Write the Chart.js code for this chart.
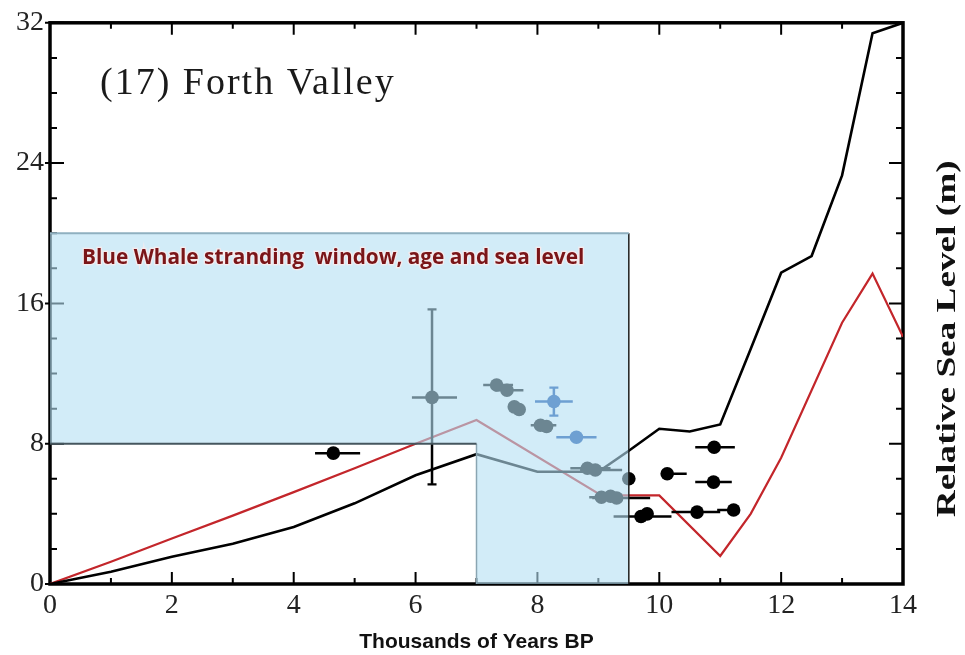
<!DOCTYPE html>
<html>
<head>
<meta charset="utf-8">
<title>Forth Valley</title>
<script src="https://cdn.jsdelivr.net/npm/chart.js@4.4.1/dist/chart.umd.min.js"></script>
<style>
  html, body { margin: 0; padding: 0; background: #ffffff; }
  #wrap { width: 965px; height: 655px; }
</style>
</head>
<body>
<div id="wrap"><canvas id="rslChart"></canvas></div>
<script>
// ==========================================
// 1. DATA (ribuan tahun BP vs muka laut relatif, m)
// ==========================================
const blackAge = [0, 1, 2, 3, 4, 5, 6, 7, 8, 9, 9.5, 10, 10.5, 11, 11.5, 12, 12.5, 13, 13.5, 14];
const blackRsl = [0, 0.7, 1.55, 2.3, 3.25, 4.6, 6.2, 7.4, 6.4, 6.4, 7.6, 8.85, 8.7, 9.1, 13.4, 17.75, 18.7, 23.3, 31.4, 32];

const redAge = [0, 1, 2, 3, 4, 5, 6, 7, 9.05, 10, 11, 11.5, 12, 13, 13.5, 14];
const redRsl = [0, 1.27, 2.6, 3.9, 5.24, 6.6, 8.0, 9.35, 5.05, 5.05, 1.6, 4.0, 7.2, 14.9, 17.7, 14.1];

// titik indeks muka laut (hitam) dengan rentang umur
const ptAge   = [4.65, 6.27, 7.33, 7.5, 7.62, 7.7, 8.05, 8.15, 8.82, 8.95, 9.05, 9.3, 9.2, 9.5, 9.7, 9.8, 10.62, 11.22, 10.13, 10.89, 10.9];
const ptRsl   = [7.46, 10.64, 11.35, 11.05, 10.1, 9.95, 9.05, 8.98, 6.6, 6.5, 4.95, 4.9, 5.0, 6.0, 3.85, 4.0, 4.1, 4.22, 6.29, 5.81, 7.8];
const ptAgeLo = [4.35, 5.94, 7.11, 7.3, 7.62, 7.7, 7.89, 8.15, 8.54, 8.7, 8.85, 8.9, 9.2, 9.5, 9.25, 9.8, 10.2, 10.95, 10.13, 10.59, 10.59];
const ptAgeHi = [5.09, 6.68, 7.6, 7.77, 7.62, 7.7, 8.31, 8.15, 9.2, 9.39, 9.3, 9.85, 9.2, 9.5, 10.2, 9.8, 11.0, 11.22, 10.45, 11.19, 11.24];

// titik biru
const blueAge   = [8.27, 8.64];
const blueRsl   = [10.41, 8.37];
const blueAgeLo = [7.96, 8.31];
const blueAgeHi = [8.58, 8.97];

// galat vertikal
const vBarAge = [6.27, 8.27];
const vBarLo  = [5.68, 9.6];
const vBarHi  = [15.66, 11.2];
const vBarCol = ["#000000", "#0541a0"];

// jendela terdamparnya paus biru (umur & muka laut)
const windowAges   = [0, 7, 9.5];
const windowLevels = [0, 8, 20];

const xTicks = [0, 2, 4, 6, 8, 10, 12, 14];
const yTicks = [0, 8, 16, 24, 32];

// ==========================================
// 2. BANTUAN
// ==========================================
const xy = (xs, ys) => xs.map((x, i) => ({ x: x, y: ys[i] }));

function hSegments(los, his, ys) {
  const out = [];
  los.forEach((lo, i) => {
    out.push({ x: lo, y: ys[i] }, { x: his[i], y: ys[i] }, { x: his[i], y: null });
  });
  return out;
}

const [wA0, wA1, wA2] = windowAges;
const [wL0, wL1, wL2] = windowLevels;
const windowShape = [
  { x: wA0, y: wL2 }, { x: wA2, y: wL2 }, { x: wA2, y: wL0 },
  { x: wA1, y: wL0 }, { x: wA1, y: wL1 }, { x: wA0, y: wL1 }, { x: wA0, y: wL2 },
];

// bingkai + tick ke dalam (gaya Grapher)
const framePlugin = {
  id: "frame",
  beforeDatasetsDraw(chart) {
    const { ctx, chartArea: a, scales } = chart;
    ctx.save();
    ctx.strokeStyle = "#000";
    ctx.lineWidth = 2;
    for (let v = 0; v <= 14; v += 1) {
      const px = scales.x.getPixelForValue(v);
      const len = v % 2 === 0 ? 12 : 6;
      ctx.beginPath();
      ctx.moveTo(px, a.bottom); ctx.lineTo(px, a.bottom - len);
      ctx.moveTo(px, a.top); ctx.lineTo(px, a.top + len);
      ctx.stroke();
    }
    for (let v = 0; v <= 32; v += 2) {
      const py = scales.y.getPixelForValue(v);
      const len = v % 8 === 0 ? 14 : 7;
      ctx.beginPath();
      ctx.moveTo(a.left - (v % 8 === 0 ? 5 : 0), py); ctx.lineTo(a.left + len, py);
      ctx.moveTo(a.right, py); ctx.lineTo(a.right - len, py);
      ctx.stroke();
    }
    ctx.lineWidth = 3.5;
    ctx.strokeRect(a.left, a.top, a.right - a.left, a.bottom - a.top);
    ctx.restore();
  },
  afterDatasetsDraw(chart) {
    const { ctx, chartArea: a } = chart;
    ctx.save();
    // judul panel
    ctx.fillStyle = "#1a1a1a";
    ctx.font = "38px 'Liberation Serif'";
    ctx.letterSpacing = "2px";
    ctx.textBaseline = "alphabetic";
    ctx.fillText("(17) Forth Valley", a.left + 50, a.top + 71);
    // keterangan jendela
    ctx.letterSpacing = "0px";
    ctx.font = "bold 20.8px 'Open Sans'";
    ctx.lineWidth = 2.5;
    ctx.strokeStyle = "rgba(255,235,235,0.8)";
    ctx.strokeText("Blue Whale stranding  window, age and sea level", a.left + 32, a.top + 241);
    ctx.fillStyle = "#7a1518";
    ctx.fillText("Blue Whale stranding  window, age and sea level", a.left + 32, a.top + 241);
    // judul sumbu kanan
    ctx.translate(a.right + 45, a.top + 316);
    ctx.rotate(-Math.PI / 2);
    ctx.scale(1.38, 1);
    ctx.font = "bold 27px 'Liberation Serif'";
    ctx.fillStyle = "#111";
    ctx.textAlign = "center";
    ctx.textBaseline = "middle";
    ctx.fillText("Relative Sea Level (m)", 0, 0);
    ctx.restore();
  },
};

// ==========================================
// 3. INISIASI GRAFIK
// ==========================================
const lineBase = { showLine: true, pointRadius: 0, fill: false, tension: 0 };

const ctx = document.getElementById("rslChart").getContext("2d");
let rslChart = new Chart(ctx, {
  type: "scatter",
  data: {
    datasets: [
      { ...lineBase, data: xy(redAge, redRsl), borderColor: "#c3262b", borderWidth: 2.2, order: 12 },
      { ...lineBase, data: xy(blackAge, blackRsl), borderColor: "#000000", borderWidth: 2.6, order: 11 },
      { ...lineBase, data: hSegments(ptAgeLo, ptAgeHi, ptRsl), borderColor: "#000", borderWidth: 2.5, spanGaps: false, order: 10 },
      { ...lineBase, data: hSegments(blueAgeLo, blueAgeHi, blueRsl), borderColor: "#0541a0", borderWidth: 2.5, spanGaps: false, order: 10 },
      ...vBarAge.map((x, i) => ({
        ...lineBase, data: [{ x: x, y: vBarLo[i] }, { x: x, y: vBarHi[i] }],
        borderColor: vBarCol[i], borderWidth: 2.5, order: 10,
      })),
      ...vBarAge.map((x, i) => ({
        data: [{ x: x, y: vBarLo[i] }, { x: x, y: vBarHi[i] }],
        pointStyle: "line", pointRadius: 4.5, borderColor: vBarCol[i], pointBorderWidth: 2.2, order: 10,
      })),
      { data: xy(ptAge, ptRsl), pointRadius: 6.8, backgroundColor: "#000", borderColor: "#000", borderWidth: 0, order: 9 },
      { data: xy(blueAge, blueRsl), pointRadius: 6.8, backgroundColor: "#0541a0", borderColor: "#0541a0", borderWidth: 0, order: 9 },
      // jendela biru transparan di atas data
      { showLine: true, data: windowShape, pointRadius: 0, borderWidth: 0, fill: "shape", backgroundColor: "rgba(180,223,243,0.6)", order: 3 },
      // tepi jendela
      { ...lineBase, data: [{ x: wA0, y: wL2 }, { x: wA2, y: wL2 }], borderColor: "#8fb0c0", borderWidth: 2, order: 2 },
      { ...lineBase, data: [{ x: wA2, y: wL2 }, { x: wA2, y: wL0 }], borderColor: "#1e1e1e", borderWidth: 1.5, order: 2 },
      { ...lineBase, data: [{ x: wA0, y: wL1 }, { x: wA1, y: wL1 }], borderColor: "#45565e", borderWidth: 2, order: 2 },
      { ...lineBase, data: [{ x: wA1, y: wL1 }, { x: wA1, y: wL0 }], borderColor: "#8aa5b2", borderWidth: 1.5, order: 2 },
    ],
  },
  options: {
    responsive: true,
    maintainAspectRatio: false,
    animation: false,
    layout: { padding: { top: 22, right: 62, left: 0, bottom: 0 } },
    scales: {
      x: {
        type: "linear",
        min: 0,
        max: 14,
        afterBuildTicks: (scale) => { scale.ticks = xTicks.map((v) => ({ value: v })); },
        afterFit: (scale) => { scale.height = 71; },
        ticks: {
          autoSkip: false, maxRotation: 0, padding: 5, color: "#222",
          font: { family: "'Liberation Serif'", size: 28 },
        },
        grid: { display: false, drawTicks: false },
        border: { display: false },
        title: {
          display: true, text: "Thousands of Years BP", color: "#111",
          font: { family: "'Liberation Sans'", size: 21, weight: "bold" },
          padding: { top: 0, bottom: 0 },
        },
      },
      y: {
        type: "linear",
        min: 0,
        max: 32,
        afterBuildTicks: (scale) => { scale.ticks = yTicks.map((v) => ({ value: v })); },
        afterFit: (scale) => { scale.width = 50; },
        ticks: {
          padding: 6, color: "#222",
          font: { family: "'Liberation Serif'", size: 28 },
        },
        grid: { display: false, drawTicks: false },
        border: { display: false },
      },
    },
    plugins: {
      legend: { display: false },
      tooltip: { enabled: false },
    },
  },
  plugins: [framePlugin],
});
</script>
</body>
</html>
